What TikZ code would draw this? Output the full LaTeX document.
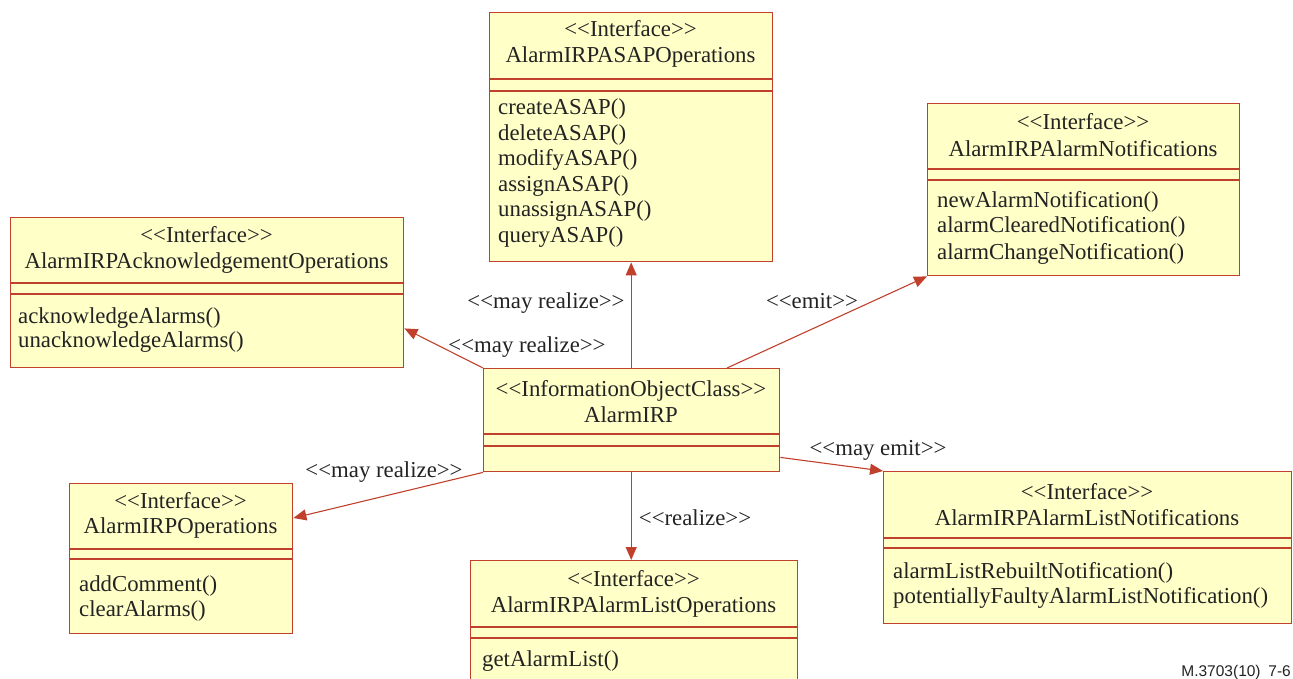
\documentclass[tikz,border=0pt]{standalone}
\usepackage{fontspec}
\setmainfont{Liberation Serif}[Ligatures=TeXOff]
\newfontfamily\footfont{Liberation Sans}
\usetikzlibrary{arrows.meta,calc}
\definecolor{umlline}{RGB}{192,64,44}
\definecolor{umlfill}{RGB}{255,255,200}
\definecolor{umltext}{RGB}{35,35,35}
\newcommand\stereo[1]{\textless\kern0pt\textless#1\textgreater\kern0pt\textgreater}

\begin{document}
\begin{tikzpicture}[x=1pt,y=-1pt,
  umlbox/.style={draw=umlline, fill=umlfill, line width=1.4pt, rectangle, inner sep=0pt, anchor=north west},
  divider/.style={draw=umlline, line width=1.4pt},
  txt/.style={text=umltext, inner sep=0pt, font=\fontsize{22.8}{25.8}\selectfont},
  hline/.style={txt, anchor=base},
  meth/.style={txt, anchor=base west},
  link/.style={draw=umlline, line width=1.1pt, -{Triangle[length=13pt,width=11pt]}},
  lbl/.style={txt, anchor=base}]
\useasboundingbox (0,0) rectangle (1293,679);
\clip (0,0) rectangle (1293,679);

% ---------- class boxes ----------
\node[umlbox, minimum width=393pt, minimum height=150pt] (ack) at (10,217) {};
\draw[divider] (ack.west |- 0,283) -- (ack.east |- 0,283);
\draw[divider] (ack.west |- 0,294) -- (ack.east |- 0,294);

\node[umlbox, minimum width=283pt, minimum height=249pt] (asap) at (489,12) {};
\draw[divider] (asap.west |- 0,79) -- (asap.east |- 0,79);
\draw[divider] (asap.west |- 0,91) -- (asap.east |- 0,91);

\node[umlbox, minimum width=312pt, minimum height=172pt] (almnot) at (927,103) {};
\draw[divider] (almnot.west |- 0,169) -- (almnot.east |- 0,169);
\draw[divider] (almnot.west |- 0,180) -- (almnot.east |- 0,180);

\node[umlbox, minimum width=296pt, minimum height=103pt] (core) at (483,368) {};
\draw[divider] (core.west |- 0,434) -- (core.east |- 0,434);
\draw[divider] (core.west |- 0,446) -- (core.east |- 0,446);

\node[umlbox, minimum width=223pt, minimum height=150pt] (ops) at (69,483) {};
\draw[divider] (ops.west |- 0,549) -- (ops.east |- 0,549);
\draw[divider] (ops.west |- 0,559) -- (ops.east |- 0,559);

\node[umlbox, minimum width=327pt, minimum height=140pt] (listops) at (470,560) {};
\draw[divider] (listops.west |- 0,627) -- (listops.east |- 0,627);
\draw[divider] (listops.west |- 0,638) -- (listops.east |- 0,638);

\node[umlbox, minimum width=408pt, minimum height=152pt] (listnot) at (883,471) {};
\draw[divider] (listnot.west |- 0,538) -- (listnot.east |- 0,538);
\draw[divider] (listnot.west |- 0,548) -- (listnot.east |- 0,548);

% ---------- box texts ----------
\node[hline] (ack-st) at (206.5,243) {\stereo{Interface}};
\node[hline] (ack-nm) at (206.5,269) {AlarmIRPAcknowledgementOperations};
\node[meth] (ack-m1) at (18,323) {acknowledgeAlarms()};
\node[meth] (ack-m2) at (18,347) {unacknowledgeAlarms()};

\node[hline] (asap-st) at (630.5,37) {\stereo{Interface}};
\node[hline] (asap-nm) at (630.5,63) {AlarmIRPASAPOperations};
\node[meth] (asap-m1) at (498,115) {createASAP()};
\node[meth] (asap-m2) at (498,141) {deleteASAP()};
\node[meth] (asap-m3) at (498,166) {modifyASAP()};
\node[meth] (asap-m4) at (498,192) {assignASAP()};
\node[meth] (asap-m5) at (498,217) {unassignASAP()};
\node[meth] (asap-m6) at (498,243) {queryASAP()};

\node[hline] (almnot-st) at (1083,130) {\stereo{Interface}};
\node[hline] (almnot-nm) at (1083,157) {AlarmIRPAlarmNotifications};
\node[meth] (almnot-m1) at (937,208) {newAlarmNotification()};
\node[meth] (almnot-m2) at (937,233) {alarmClearedNotification()};
\node[meth] (almnot-m3) at (937,259) {alarmChangeNotification()};

\node[hline] (core-st) at (631,396) {\stereo{InformationObjectClass}};
\node[hline] (core-nm) at (631,422) {AlarmIRP};

\node[hline] (ops-st) at (180.5,508) {\stereo{Interface}};
\node[hline] (ops-nm) at (180.5,533) {AlarmIRPOperations};
\node[meth] (ops-m1) at (79,591) {addComment()};
\node[meth] (ops-m2) at (79,616) {clearAlarms()};

\node[hline] (listops-st) at (633.5,586) {\stereo{Interface}};
\node[hline] (listops-nm) at (633.5,612) {AlarmIRPAlarmListOperations};
\node[meth] (listops-m1) at (482,666) {getAlarmList()};

\node[hline] (listnot-st) at (1087,499) {\stereo{Interface}};
\node[hline] (listnot-nm) at (1087,525) {AlarmIRPAlarmListNotifications};
\node[meth] (listnot-m1) at (893,578) {alarmListRebuiltNotification()};
\node[meth] (listnot-m2) at (893,603) {potentiallyFaultyAlarmListNotification()};

% ---------- relations ----------
\draw[link] (core.north west) -- ($(ack.south east)+(0,-40)$);
\draw[link] (core.north -| asap.south) -- (asap.south);
\draw[link] ($(core.north west)+(244,0)$) -- (almnot.south west);
\draw[link] (core.south west) -- ($(ops.north east)+(0,35)$);
\draw[link] (core.south -| asap.south) -- (listops.north -| asap.south);
\draw[link] ($(core.south east)+(0,-15)$) -- (listnot.north west);

\node[lbl] (l-asap) at (546,308) {\stereo{may realize}};
\node[lbl] (l-ack) at (527,352) {\stereo{may realize}};
\node[lbl] (l-emit) at (812,308) {\stereo{emit}};
\node[lbl] (l-ops) at (384,477) {\stereo{may realize}};
\node[lbl] (l-list) at (695,525) {\stereo{realize}};
\node[lbl] (l-memit) at (878,455) {\stereo{may emit}};

\node[anchor=base east, inner sep=0pt, text=umltext, font=\footfont\fontsize{15.5}{16}\selectfont] (fig) at (1291,676) {M.3703(10)\hspace{0.5em}7-6};
\end{tikzpicture}
\end{document}
